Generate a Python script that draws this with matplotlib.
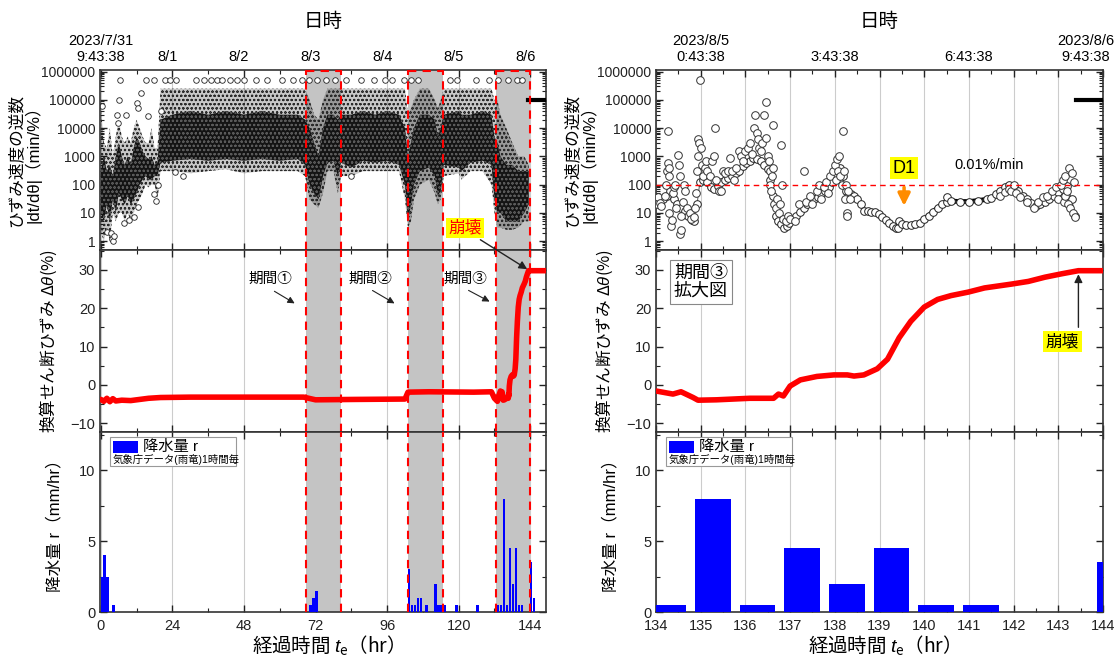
import numpy as np
import matplotlib
matplotlib.use('Agg')
import matplotlib.pyplot as plt
import matplotlib.transforms as mtransforms
from matplotlib.patches import Rectangle
from matplotlib.ticker import FixedLocator, LogLocator, NullFormatter, MultipleLocator

plt.rcParams['font.family'] = ['Liberation Sans', 'Noto Sans CJK JP']
plt.rcParams['hatch.linewidth'] = 0.5
plt.rcParams['mathtext.fontset'] = 'custom'
plt.rcParams['mathtext.rm'] = 'Noto Sans CJK JP'
plt.rcParams['mathtext.it'] = 'Liberation Sans:italic'
plt.rcParams['mathtext.bf'] = 'Liberation Sans:bold'
CJK = 'Noto Sans CJK JP'

# ---------------- data ----------------
# dense scatter cloud of |dt/dθ| (left top panel), envelopes
cloud_t = [0, 1, 2, 3, 4, 5, 6, 7, 8, 9, 10, 11, 12, 13, 14, 15, 16, 17, 18, 19, 20,
           24, 30, 36, 42, 48, 54, 60, 66, 68.5, 70, 71.5, 73, 74.5, 76, 78, 79.5, 80.5,
           84, 88, 92, 96, 100, 102, 103, 104, 105, 107, 110, 112, 113, 114, 115,
           120, 121, 124, 128, 131, 132, 133, 134, 136, 138, 140, 142, 143.5]
core_lo = [10, 5, 20, 5, 30, 10, 50, 30, 20, 40, 20, 30, 50, 100, 150, 200, 150, 150, 200, 200, 600,
           700, 800, 700, 800, 700, 800, 700, 800, 500, 100, 50, 30, 200, 600, 700, 200, 600,
           400, 700, 600, 700, 500, 100, 5, 20, 100, 300, 400, 200, 40, 60, 500,
           400, 300, 600, 700, 500, 30, 10, 10, 5, 5, 5, 10, 20]
core_hi = [300, 1000, 300, 500, 200, 1000, 3000, 1000, 500, 1000, 500, 2000, 5000, 3000, 1500, 1000, 800, 1000, 500, 600, 20000,
           30000, 40000, 30000, 40000, 30000, 40000, 30000, 30000, 20000, 10000, 3000, 1000, 10000, 30000, 30000, 20000, 30000,
           30000, 40000, 30000, 40000, 30000, 10000, 1000, 3000, 10000, 30000, 30000, 20000, 5000, 10000, 30000,
           40000, 30000, 30000, 40000, 30000, 5000, 3000, 1000, 500, 500, 300, 300, 300]
out_lo = [2, 1, 3, 1, 10, 5, 10, 10, 5, 10, 5, 10, 20, 30, 50, 100, 80, 100, 100, 30, 300,
          300, 250, 300, 350, 250, 300, 300, 300, 200, 30, 20, 15, 50, 300, 300, 50, 200,
          200, 300, 300, 300, 300, 30, 3, 5, 30, 100, 150, 50, 20, 30, 200,
          250, 150, 300, 300, 100, 10, 3, 3, 2.5, 2.5, 3, 5, 5]
out_hi = [50000, 3000, 2000, 10000, 1000, 5000, 20000, 5000, 3000, 5000, 3000, 10000, 20000, 10000, 5000, 3000, 3000, 10000, 2000, 2000, 250000,
          250000, 250000, 250000, 250000, 250000, 250000, 250000, 250000, 250000, 100000, 30000, 20000, 100000, 250000, 250000, 250000, 250000,
          250000, 250000, 250000, 250000, 250000, 250000, 30000, 50000, 100000, 250000, 250000, 100000, 50000, 100000, 250000,
          250000, 250000, 250000, 250000, 250000, 100000, 100000, 30000, 10000, 3000, 1000, 1000, 500]

# sparse circles on the 500000 row
row5_t = [6.5, 15.2, 17.7, 21.4, 23.3, 25.1, 32.0, 34.5, 36.9, 38.8, 40.7, 43.2, 45.6, 48.1,
          51.9, 55.6, 60.6, 64.3, 67.4, 69.9, 72.4, 75.5, 78.6, 82.3, 87.3, 91.6, 95.4, 97.8,
          101.6, 104.1, 106.5, 117.1, 119.6, 125.8, 130.2, 133.3, 136.4, 139.5, 141.3]
# isolated circles (left top)
out_pts = [(0.5, 60000), (5.5, 30000), (5.8, 15000), (6.1, 100000), (8.4, 30000), (12.0, 77000),
           (12.3, 50000), (13.4, 175000), (15.7, 26000), (20.1, 40000), (17.9, 48), (18.5, 27),
           (19.0, 100), (2.0, 2.1), (3.4, 1.9), (3.8, 1.2), (4.2, 1.0), (4.5, 1.5), (7.8, 4.3),
           (9.5, 5.5), (11.2, 7), (12.3, 16), (25.0, 270), (27.5, 200), (84.0, 200)]
# saturated value after collapse
sat_t = [143.4, 150.0]
sat_v = [100000, 100000]

# enlarged |dt/dθ| for period 3 (right top panel)
rt_track = [(134.00, 25), (134.08, 28), (134.16, 30), (134.24, 40), (134.32, 60), (134.40, 30),
            (134.48, 20), (134.56, 15), (134.64, 12), (134.72, 8), (134.80, 5.5), (134.86, 5),
            (134.92, 20), (134.98, 120), (135.06, 150), (135.14, 120), (135.22, 80), (135.30, 70),
            (135.38, 90), (135.46, 120), (135.54, 150), (135.62, 170), (135.70, 200), (135.78, 250),
            (135.86, 300), (135.94, 450), (136.02, 600), (136.10, 700), (136.18, 900), (136.26, 800),
            (136.34, 700), (136.42, 500), (136.50, 350), (136.56, 150), (136.62, 40), (136.68, 8),
            (136.74, 5), (136.80, 4), (136.86, 3), (136.92, 3.5), (136.98, 4.5), (137.06, 6),
            (137.14, 8), (137.22, 11), (137.30, 15), (137.38, 20), (137.46, 25), (137.54, 30),
            (137.62, 35), (137.70, 45), (137.78, 60), (137.86, 80), (137.94, 120), (138.00, 200),
            (138.06, 350), (138.12, 400), (138.18, 200), (138.24, 60), (138.30, 40), (138.36, 45),
            (138.42, 40), (138.50, 30), (138.58, 20), (138.66, 12), (138.74, 12), (138.82, 11),
            (138.90, 11), (138.98, 9), (139.06, 7), (139.14, 5.5), (139.22, 4.5), (139.30, 3.5),
            (139.38, 3), (139.42, 2.8), (139.44, 5), (139.50, 4), (139.60, 3.8), (139.70, 3.8),
            (139.80, 4), (139.90, 4.5), (140.00, 6), (140.10, 8), (140.20, 11), (140.30, 15),
            (140.40, 20), (140.50, 25), (140.52, 35), (140.60, 26), (140.80, 25), (141.00, 25),
            (141.20, 27), (141.40, 30), (141.50, 33), (141.60, 45), (141.70, 60), (141.80, 80),
            (141.90, 95), (142.00, 80), (142.10, 60), (142.20, 40), (142.30, 30), (142.40, 22),
            (142.50, 17), (142.60, 20), (142.70, 25), (142.80, 30), (142.90, 40), (143.00, 55),
            (143.10, 70), (143.20, 90), (143.30, 30), (143.38, 8)]
rt_cloud = [(134.02, 20), (134.05, 35), (134.10, 22), (134.12, 18), (134.20, 40), (134.22, 100),
            (134.25, 300), (134.26, 8000), (134.27, 600), (134.28, 400), (134.30, 200), (134.30, 10),
            (134.33, 3.5), (134.36, 5.5), (134.38, 50), (134.40, 80), (134.42, 100), (134.45, 15),
            (134.50, 1100), (134.52, 500), (134.53, 200), (134.54, 1.8), (134.55, 2.5), (134.56, 8),
            (134.60, 25), (134.62, 100), (134.65, 60), (134.70, 15), (134.75, 10), (134.78, 6),
            (134.85, 7), (134.88, 15), (134.90, 50), (134.92, 300), (134.94, 1000), (134.95, 4000),
            (134.97, 3000), (134.98, 500000), (135.00, 2000), (135.02, 500), (135.05, 200), (135.10, 400),
            (135.12, 700), (135.15, 300), (135.20, 200), (135.25, 700), (135.30, 1000), (135.33, 10000),
            (135.35, 150), (135.40, 60), (135.45, 60), (135.50, 300), (135.55, 250), (135.60, 300),
            (135.65, 900), (135.70, 300), (135.75, 150), (135.80, 400), (135.85, 1500), (135.90, 1000),
            (135.95, 700), (136.00, 1500), (136.05, 2000), (136.10, 3000), (136.15, 1200), (136.20, 10000),
            (136.22, 30000), (136.25, 7000), (136.28, 4000), (136.30, 2000), (136.35, 1500), (136.38, 3000),
            (136.41, 30000), (136.45, 85000), (136.47, 4500), (136.50, 1000), (136.52, 700), (136.55, 300),
            (136.56, 100), (136.58, 60), (136.60, 200), (136.61, 13000), (136.62, 400), (136.65, 20),
            (136.68, 15), (136.70, 30), (136.75, 10), (136.78, 20), (136.80, 2500), (136.82, 100),
            (136.84, 6), (136.90, 5), (136.95, 8), (137.00, 6), (137.10, 5), (137.20, 20),
            (137.30, 300), (137.35, 25), (137.45, 40), (137.50, 20), (137.60, 60), (137.65, 100),
            (137.70, 30), (137.75, 80), (137.80, 120), (137.85, 50), (137.90, 200), (137.95, 300),
            (138.00, 500), (138.03, 150), (138.05, 800), (138.08, 300), (138.10, 1000), (138.12, 200),
            (138.15, 100), (138.18, 8000), (138.20, 300), (138.22, 30), (138.25, 100), (138.27, 10),
            (138.28, 8), (138.30, 60), (138.33, 30),
            (141.70, 40), (141.80, 55), (141.90, 70), (141.95, 60), (142.00, 100), (142.05, 50),
            (142.15, 35), (142.30, 25), (142.45, 15), (142.55, 25), (142.65, 35), (142.75, 40),
            (142.85, 60), (142.95, 80), (143.00, 30), (143.05, 100), (143.10, 150), (143.12, 25),
            (143.15, 200), (143.15, 40), (143.20, 60), (143.22, 20), (143.25, 400), (143.27, 15),
            (143.30, 250), (143.32, 10), (143.35, 120), (143.37, 7)]
dense_span = (138.6, 141.55)   # part of the track where circles merge into a solid line

# converted shear strain Δθ (%)
dtheta = [(0, -3.8), (1, -4.3), (2, -3.5), (3, -4.4), (4, -3.6), (5, -4.2), (7, -4.0), (10, -4.1),
          (13, -3.8), (16, -3.5), (20, -3.3), (30, -3.2), (50, -3.2), (68, -3.2), (72, -3.9),
          (85, -3.8), (102, -3.7), (103, -1.9), (110, -1.8), (125, -1.9), (131, -1.8), (132, -3.5),
          (133, -4.3), (133.6, -2.5),
          (134.0, -1.6), (134.38, -2.4), (134.56, -1.8), (134.83, -3.3), (134.94, -4.0), (135.35, -3.9),
          (136.1, -3.5), (136.63, -3.5), (136.74, -2.4), (136.85, -2.9), (137.0, -0.3), (137.23, 1.3),
          (137.6, 2.2), (137.98, 2.6), (138.28, 2.6), (138.43, 2.3), (138.65, 2.6), (138.95, 4.2),
          (139.18, 6.7), (139.44, 12.3), (139.7, 16.6), (140.0, 20.3), (140.3, 22.3), (140.6, 23.3),
          (140.98, 24.2), (141.35, 25.3), (141.95, 26.3), (142.33, 27.0), (142.7, 28.1), (143.08, 29.0),
          (143.45, 29.8), (144.0, 29.8), (149.5, 29.8)]

# hourly rainfall r (mm/hr), JMA Uryu
rain_t = [0, 1, 2, 4, 70, 71, 72, 103, 104, 105, 106, 107, 109, 112, 113, 114, 115, 119, 126,
          133, 134, 135, 136, 137, 138, 139, 140, 141, 144, 145]
rain_v = [2.5, 4.0, 2.5, 0.5, 0.5, 1.0, 1.5, 3.0, 0.5, 0.5, 1.0, 1.0, 0.5, 2.0, 0.5, 0.5, 0.5, 0.5, 0.5,
          0.5, 0.5, 8.0, 0.5, 4.5, 2.0, 4.5, 0.5, 0.5, 3.5, 1.0]

periods = [(68.8, 80.5), (103.1, 114.9), (132.4, 144.0)]

left_date_ticks = [0, 24, 48, 72, 96, 120, 144]
left_date_labels = ['2023/7/31\n9:43:38', '8/1', '8/2', '8/3', '8/4', '8/5', '8/6']
right_date_ticks = [135, 138, 141, 144]
right_date_labels = ['2023/8/5\n0:43:38', '3:43:38', '6:43:38', '2023/8/6\n9:43:38']
log_ticks = [1, 10, 100, 1000, 10000, 100000, 1000000]
log_labels = ['1', '10', '100', '1000', '10000', '100000', '1000000']

# ---------------- figure ----------------
W, H = 1118, 662
fig = plt.figure(figsize=(W / 100, H / 100), dpi=100)


def rect(x0, x1, y0, y1):
    return [x0 / W, 1 - y1 / H, (x1 - x0) / W, (y1 - y0) / H]


cols = {'L': (100, 546), 'R': (656, 1103)}
rows = [(70, 250), (250, 432), (432, 612)]
axes = {}
for key, (x0, x1) in cols.items():
    axes[key] = [fig.add_axes(rect(x0, x1, y0, y1)) for (y0, y1) in rows]


def style(ax, xmaj, xmin):
    ax.xaxis.set_major_locator(FixedLocator(xmaj))
    ax.xaxis.set_minor_locator(FixedLocator(xmin))
    ax.tick_params(which='both', direction='in', top=True, bottom=True, left=True, right=True,
                   labelsize=10.5, colors='#222222')
    ax.tick_params(which='major', length=5, width=1)
    ax.tick_params(which='minor', length=3, width=0.8)
    ax.grid(axis='x', which='major', color='#cccccc', lw=0.8)
    ax.set_axisbelow(True)
    for s in ax.spines.values():
        s.set_linewidth(1.2)
        s.set_color('#333333')


left_maj = list(range(0, 145, 24))
left_min = list(range(12, 150, 24))
right_maj = list(range(134, 145))
right_min = [134.5 + i for i in range(10)]

for key in cols:
    top, mid, bot = axes[key]
    for ax in (top, mid, bot):
        if key == 'L':
            style(ax, left_maj, left_min)
            ax.set_xlim(-0.3, 149.3)
        else:
            style(ax, right_maj, right_min)
            ax.set_xlim(134, 144)
    top.tick_params(labelbottom=False)
    top.tick_params(axis='y', labelsize=10)
    mid.tick_params(labelbottom=False)
    bot.tick_params(axis='x', pad=5)

    top.set_yscale('log')
    top.set_ylim(0.48, 1.15e6)
    top.yaxis.set_major_locator(FixedLocator(log_ticks))
    top.set_yticklabels(log_labels)
    top.yaxis.set_minor_locator(LogLocator(base=10, subs=np.arange(2, 10), numticks=20))
    top.yaxis.set_minor_formatter(NullFormatter())

    mid.set_ylim(-12.3, 35.2)
    mid.yaxis.set_major_locator(MultipleLocator(10))
    mid.yaxis.set_minor_locator(MultipleLocator(5))

    bot.set_ylim(0, 12.7)
    bot.yaxis.set_major_locator(MultipleLocator(5))
    bot.yaxis.set_minor_locator(MultipleLocator(2.5))

    sec = top.secondary_xaxis('top')
    if key == 'L':
        sec.set_xticks(left_date_ticks, labels=left_date_labels)
        shifts = [0, -5, -5, -5, -5, -5, -5]
    else:
        sec.set_xticks(right_date_ticks, labels=right_date_labels)
        shifts = [0, 0, 0, -17]
    sec.tick_params(length=0, labelsize=10.5, pad=4)
    sec.spines['top'].set_visible(False)
    for lab, dx in zip(sec.get_xticklabels(), shifts):
        lab.set_transform(lab.get_transform() +
                          mtransforms.ScaledTranslation(dx / 100, 0, fig.dpi_scale_trans))

    top.set_ylabel('ひずみ速度の逆数\n|dt/dθ|（min/%）', fontsize=12, labelpad=0, linespacing=1.05)
    mid.set_ylabel('換算せん断ひずみ $\\Delta\\theta$(%)', fontsize=12, labelpad=8, family=CJK)
    bot.set_ylabel('降水量 r（mm/hr）', fontsize=12, labelpad=12)
    bot.set_xlabel('経過時間 $t_{\\mathrm{e}}$（hr）', fontsize=14, labelpad=0, family=CJK)

    x0, x1 = cols[key]
    fig.text((x0 + x1) / 2 / W, 1 - 22 / H, '日時', fontsize=14, ha='center', va='center')

# ---------- left column ----------
lt, lm, lb = axes['L']
for ax in (lt, lm, lb):
    for a, b in periods:
        ax.axvspan(a, b, color='#c4c4c4', lw=0, zorder=0.8)
        ax.axvline(a, color='red', ls=(0, (4, 3)), lw=1.5, zorder=6)
        ax.axvline(b, color='red', ls=(0, (4, 3)), lw=1.5, zorder=6)
for a, b in periods:
    lt.plot([a, b], [0.995, 0.995], transform=lt.get_xaxis_transform(), color='red',
            ls=(0, (4, 3)), lw=1.5, zorder=6, clip_on=False)

lt.fill_between(cloud_t, out_lo, out_hi, facecolor=(0, 0, 0, 0.22), edgecolor='#2a2a2a',
                hatch='oooo', lw=0, zorder=1)
lt.fill_between(cloud_t, core_lo, core_hi, facecolor='#141414', edgecolor='#5a5a5a', hatch='oooo',
                lw=0, zorder=1.1)
lt.scatter(row5_t, [500000] * len(row5_t), s=16, facecolors='white', edgecolors='#222222',
           lw=0.6, zorder=2)
ot, ov = zip(*out_pts)
lt.scatter(ot, ov, s=16, facecolors='white', edgecolors='#222222', lw=0.6, zorder=2)
lt.plot(sat_t, sat_v, color='k', lw=3, zorder=3)

dt, dv = zip(*dtheta)
lm.plot(dt, dv, color='red', lw=4, zorder=4, solid_capstyle='round')

lb.bar(np.array(rain_t) - 0.13, rain_v, width=0.8, align='edge', color='blue', zorder=3)

arrow_kw = dict(arrowstyle='-|>', color='#222222', lw=0.8, mutation_scale=10)
for label, xt, xa in [('期間①', (57.0, 27.7), ((57.4, 24.8), (65.8, 20.9))),
                      ('期間②', (90.3, 27.7), ((90.3, 25.0), (99.3, 20.9))),
                      ('期間③', (122.1, 27.7), ((122.5, 25.0), (131.2, 21.4)))]:
    lm.text(xt[0], xt[1], label, fontsize=10.5, ha='center', va='center')
    lm.annotate('', xy=xa[1], xytext=xa[0], arrowprops=arrow_kw)

lt.text(122.1, 2.9, '崩壊', color='red', fontsize=12, ha='center', va='center', zorder=7,
        bbox=dict(fc='yellow', ec='none', pad=1.5))
lm.annotate('', xy=(143.8, 29.8), xytext=(126.5, 1.25), textcoords=lt.transData,
            arrowprops=dict(arrowstyle='-|>', color='#222222', lw=1.0, mutation_scale=12),
            annotation_clip=False, zorder=8)


def rain_legend(ax):
    ax.add_patch(Rectangle((0.022, 0.81), 0.283, 0.162, transform=ax.transAxes, fc='white',
                           ec='#999999', lw=0.8, zorder=7))
    ax.add_patch(Rectangle((0.029, 0.885), 0.057, 0.066, transform=ax.transAxes, fc='blue',
                           ec='none', zorder=8))
    ax.text(0.096, 0.918, '降水量 r', transform=ax.transAxes, fontsize=11, va='center', zorder=8)
    ax.text(0.029, 0.845, '気象庁データ(雨竜)1時間毎', transform=ax.transAxes, fontsize=7.5,
            va='center', zorder=8)


rain_legend(lb)

# ---------- right column ----------
rt, rm, rb = axes['R']
tt, tv = zip(*rt_track)
ct, cv = zip(*rt_cloud)
tt_arr, tv_arr = np.array(tt), np.array(tv)
dense = (tt_arr >= dense_span[0]) & (tt_arr <= dense_span[1])
rt.plot(tt_arr[dense], tv_arr[dense], color='k', lw=3.5, zorder=2)
rt.plot(tt, tv, color='#444444', lw=0.6, zorder=2)
rt.plot(tt, tv, ls='none', marker='o', ms=5.5, mfc='white', mec='#222222', mew=0.7, zorder=3)
rt.plot(ct, cv, ls='none', marker='o', ms=5.5, mfc='white', mec='#333333', mew=0.7, zorder=3)
rt.plot(sat_t, sat_v, color='k', lw=3, zorder=3)
rt.axhline(100, color='red', ls=(0, (4, 3)), lw=1.0, zorder=4)
rt.text(139.55, 380, 'D1', fontsize=13, ha='center', va='center', zorder=7,
        bbox=dict(fc='yellow', ec='none', pad=2))
rt.annotate('', xy=(139.55, 14), xytext=(139.55, 100),
            arrowprops=dict(arrowstyle='-|>', color='#ff8c00', lw=2.5, mutation_scale=18), zorder=7)
rt.text(141.45, 500, '0.01%/min', fontsize=10.5, ha='center', va='center')

rm.plot(dt, dv, color='red', lw=4, zorder=4, solid_capstyle='round')
rm.text(0.04, 0.92, '期間③\n拡大図', transform=rm.transAxes, fontsize=13, va='top', ha='left',
        linespacing=1.1, bbox=dict(fc='white', ec='#888888', lw=0.8, pad=3))
rm.text(143.09, 11.4, '崩壊', fontsize=12, ha='center', va='center', zorder=7,
        bbox=dict(fc='yellow', ec='none', pad=2))
rm.annotate('', xy=(143.45, 29.6), xytext=(143.45, 14.3),
            arrowprops=dict(arrowstyle='-|>', color='#222222', lw=1.0, mutation_scale=12))

rb.bar(np.array(rain_t) - 0.13, rain_v, width=0.8, align='edge', color='blue', zorder=3)
rain_legend(rb)

fig.savefig('out.png', dpi=100)
